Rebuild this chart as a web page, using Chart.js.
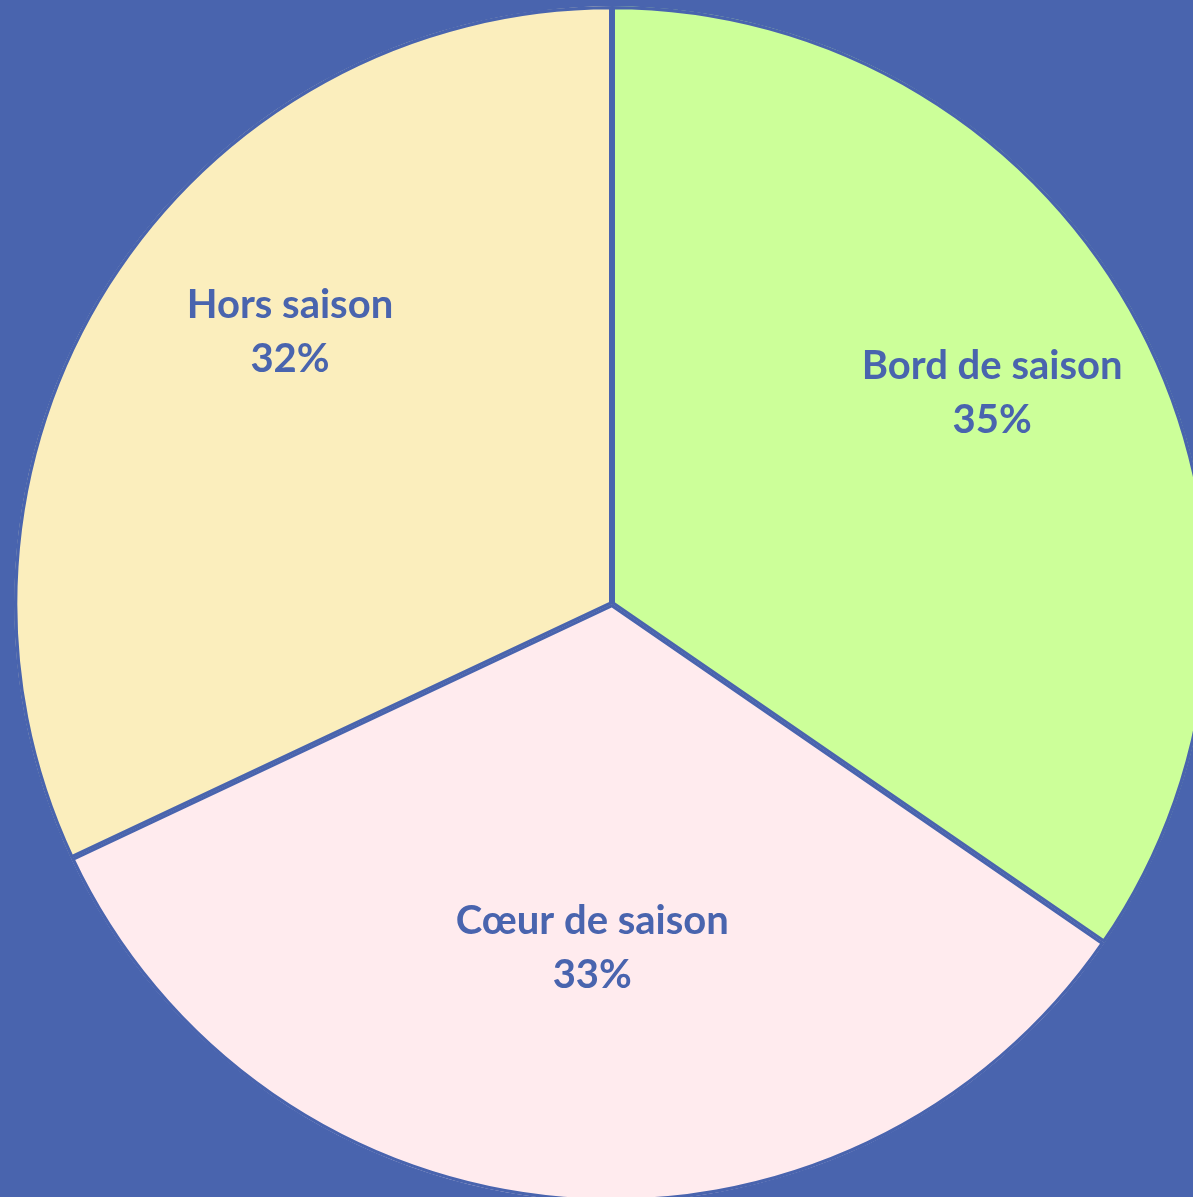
<!DOCTYPE html>
<html>
<head>
<meta charset="utf-8">
<script src="https://cdn.jsdelivr.net/npm/chart.js@4"></script>
<style>
    html, body {
        margin: 0;
        padding: 0;
        width: 1193px;
        height: 1197px;
        overflow: hidden;
        background: #4964ae;
    }
    .chart-container {
        position: absolute;
        left: 14px;
        top: 6px;
        width: 1196px;
        height: 1196px;
    }
</style>
</head>
<body>
<div class="chart-container">
    <canvas id="pie"></canvas>
</div>
<script>
const categories = ['Bord de saison', 'Cœur de saison', 'Hors saison'];
// the labels show them rounded
const shares = [34.6, 33.4, 32.0];

const sliceColors = ['#ccff99', '#ffebee', '#fbeebd'];
const edgeColor = '#4964ae';

// Excel places the labels "best fit": each one gets its own distance
// from the centre and a small turn (degrees) away from the slice middle
const labelRadius = [0.727, 0.577, 0.705];
const labelTurn = [-1.3, -1.4, 7.8];

const sliceLabels = {
    id: 'sliceLabels',
    afterDatasetsDraw(chart) {
        const ctx = chart.ctx;
        const arcs = chart.getDatasetMeta(0).data;
        ctx.save();
        ctx.fillStyle = edgeColor;
        ctx.font = 'bold 40px Lato';
        ctx.textAlign = 'center';
        ctx.textBaseline = 'middle';
        arcs.forEach((arc, i) => {
            const mid = (arc.startAngle + arc.endAngle) / 2 + labelTurn[i] * Math.PI / 180;
            const r = arc.outerRadius * labelRadius[i];
            const x = arc.x + Math.cos(mid) * r;
            const y = arc.y + Math.sin(mid) * r;
            ctx.fillText(categories[i], x, y - 27);
            ctx.fillText(Math.round(shares[i]) + '%', x, y + 27);
        });
        ctx.restore();
    }
};

new Chart(document.getElementById('pie'), {
    type: 'pie',
    data: {
        labels: categories,
        datasets: [{
            data: shares,
            backgroundColor: sliceColors,
            borderColor: edgeColor,
            borderWidth: 3,
            borderAlign: 'inner'
        }]
    },
    options: {
        responsive: true,
        maintainAspectRatio: false,
        animation: false,
        layout: { padding: 0 },
        plugins: {
            legend: { display: false },
            tooltip: { enabled: false }
        }
    },
    plugins: [sliceLabels]
});
</script>
</body>
</html>
